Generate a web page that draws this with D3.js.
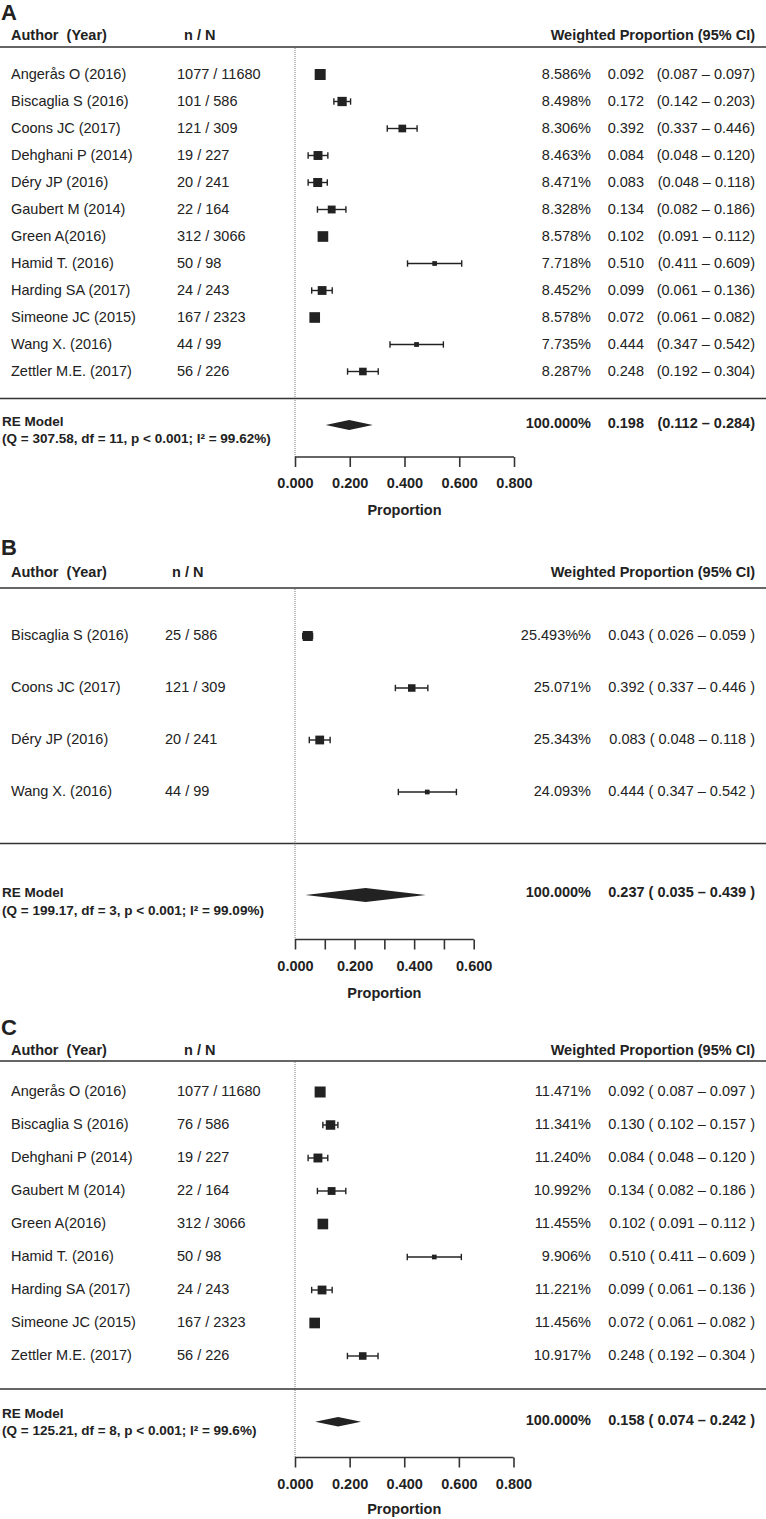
<!DOCTYPE html>
<html><head><meta charset="utf-8">
<script src="https://cdn.jsdelivr.net/npm/d3@7"></script>
<style>
body{margin:0;background:#fff;}
svg{display:block;font-family:"Liberation Sans",Arial,Helvetica,sans-serif;}
text{fill:#222;}
</style></head><body>
<script>
// ---------- Panel A data ----------
const authorsA = ["Angerås O (2016)","Biscaglia S (2016)","Coons JC (2017)","Dehghani P (2014)","Déry JP (2016)","Gaubert M (2014)","Green A(2016)","Hamid T. (2016)","Harding SA (2017)","Simeone JC (2015)","Wang X. (2016)","Zettler M.E. (2017)"];
const nNA = ["1077 / 11680","101 / 586","121 / 309","19 / 227","20 / 241","22 / 164","312 / 3066","50 / 98","24 / 243","167 / 2323","44 / 99","56 / 226"];
const weightsA = ["8.586%","8.498%","8.306%","8.463%","8.471%","8.328%","8.578%","7.718%","8.452%","8.578%","7.735%","8.287%"];
const estA = [0.092,0.172,0.392,0.084,0.083,0.134,0.102,0.510,0.099,0.072,0.444,0.248];
const loA  = [0.087,0.142,0.337,0.048,0.048,0.082,0.091,0.411,0.061,0.061,0.347,0.192];
const hiA  = [0.097,0.203,0.446,0.120,0.118,0.186,0.112,0.609,0.136,0.082,0.542,0.304];
const reA = {est:0.198, lo:0.112, hi:0.284, weight:"100.000%", stats:"(Q = 307.58, df = 11, p < 0.001; I² = 99.62%)"};
const ticksA = [0,0.2,0.4,0.6,0.8];
const tickLabelsA = ["0.000","0.200","0.400","0.600","0.800"];

// ---------- Panel B data ----------
const authorsB = ["Biscaglia S (2016)","Coons JC (2017)","Déry JP (2016)","Wang X. (2016)"];
const nNB = ["25 / 586","121 / 309","20 / 241","44 / 99"];
const weightsB = ["25.493%%","25.071%","25.343%","24.093%"];
const estB = [0.043,0.392,0.083,0.444];
const loB  = [0.026,0.337,0.048,0.347];
const hiB  = [0.059,0.446,0.118,0.542];
const reB = {est:0.237, lo:0.035, hi:0.439, weight:"100.000%", stats:"(Q = 199.17, df = 3, p < 0.001; I² = 99.09%)"};
const ticksB = [0,0.1,0.2,0.3,0.4,0.5,0.6];
const tickLabelsB = ["0.000","","0.200","","0.400","","0.600"];

// ---------- Panel C data ----------
const authorsC = ["Angerås O (2016)","Biscaglia S (2016)","Dehghani P (2014)","Gaubert M (2014)","Green A(2016)","Hamid T. (2016)","Harding SA (2017)","Simeone JC (2015)","Zettler M.E. (2017)"];
const nNC = ["1077 / 11680","76 / 586","19 / 227","22 / 164","312 / 3066","50 / 98","24 / 243","167 / 2323","56 / 226"];
const weightsC = ["11.471%","11.341%","11.240%","10.992%","11.455%","9.906%","11.221%","11.456%","10.917%"];
const estC = [0.092,0.130,0.084,0.134,0.102,0.510,0.099,0.072,0.248];
const loC  = [0.087,0.102,0.048,0.082,0.091,0.411,0.061,0.061,0.192];
const hiC  = [0.097,0.157,0.120,0.186,0.112,0.609,0.136,0.082,0.304];
const reC = {est:0.158, lo:0.074, hi:0.242, weight:"100.000%", stats:"(Q = 125.21, df = 8, p < 0.001; I² = 99.6%)"};
const ticksC = [0,0.2,0.4,0.6,0.8];
const tickLabelsC = ["0.000","0.200","0.400","0.600","0.800"];

const W = 766, H = 1519;
const svg = d3.select("body").append("svg").attr("width", W).attr("height", H);
const f3 = d3.format(".3f");
const DARK = "#222";
const FS = "14.5px";

function drawPanel(p) {
  const g = svg.append("g");
  const x = d3.scaleLinear().domain(p.domain).range(p.range);
  const widths = p.lo.map((l, i) => p.hi[i] - l);
  const size = d3.scaleLinear().domain([d3.max(widths), d3.min(widths)]).range(p.sizeRange);

  // panel letter
  g.append("text").attr("x", 1).attr("y", p.letterY).attr("dominant-baseline", "central")
    .style("font-size", "22px").style("font-weight", "bold").text(p.letter);

  // header
  const hdr = g.append("g").style("font-size", FS).style("font-weight", "bold");
  hdr.append("text").attr("x", 11).attr("y", p.headerY).attr("dominant-baseline", "central")
    .style("white-space", "pre").text("Author  (Year)");
  hdr.append("text").attr("x", p.nNHeaderX).attr("y", p.headerY).attr("dominant-baseline", "central").text("n / N");
  hdr.append("text").attr("x", 755).attr("y", p.headerY).attr("dominant-baseline", "central")
    .attr("text-anchor", "end").text("Weighted Proportion (95% CI)");
  g.append("line").attr("x1", 0).attr("x2", W).attr("y1", p.headerLineY).attr("y2", p.headerLineY)
    .attr("stroke", "#333").attr("stroke-width", 1.6);

  // reference line at 0
  g.append("line").attr("x1", x(0)).attr("x2", x(0)).attr("y1", p.headerLineY + 1).attr("y2", p.axisY)
    .attr("stroke", "#777").attr("stroke-width", 1).attr("stroke-dasharray", "1,1");

  const rowY = i => p.row0 + i * p.rowStep;
  const rows = g.selectAll("g.row").data(p.authors.map((a, i) => i)).join("g").attr("class", "row");
  const ts = rows.append("g").style("font-size", FS);
  ts.append("text").attr("x", 11).attr("y", i => rowY(i) + p.textDy).attr("dominant-baseline", "central").text(i => p.authors[i]);
  ts.append("text").attr("x", p.nNX).attr("y", i => rowY(i) + p.textDy).attr("dominant-baseline", "central").text(i => p.nN[i]);
  ts.append("text").attr("x", 591).attr("y", i => rowY(i) + p.textDy).attr("dominant-baseline", "central")
    .attr("text-anchor", "end").text(i => p.weights[i]);
  if (p.splitCols) {
    ts.append("text").attr("x", 644).attr("y", i => rowY(i) + p.textDy).attr("dominant-baseline", "central")
      .attr("text-anchor", "end").text(i => f3(p.est[i]));
    ts.append("text").attr("x", 755).attr("y", i => rowY(i) + p.textDy).attr("dominant-baseline", "central")
      .attr("text-anchor", "end").text(i => "(" + f3(p.lo[i]) + " – " + f3(p.hi[i]) + ")");
  } else {
    ts.append("text").attr("x", 755).attr("y", i => rowY(i) + p.textDy).attr("dominant-baseline", "central")
      .attr("text-anchor", "end").text(i => f3(p.est[i]) + " ( " + f3(p.lo[i]) + " – " + f3(p.hi[i]) + " )");
  }

  // CI whiskers
  rows.append("line").attr("x1", i => x(p.lo[i])).attr("x2", i => x(p.hi[i]))
    .attr("y1", rowY).attr("y2", rowY).attr("stroke", DARK).attr("stroke-width", 1.4);
  rows.append("line").attr("x1", i => x(p.lo[i])).attr("x2", i => x(p.lo[i]))
    .attr("y1", i => rowY(i) - 3.2).attr("y2", i => rowY(i) + 3.2).attr("stroke", DARK).attr("stroke-width", 1.4);
  rows.append("line").attr("x1", i => x(p.hi[i])).attr("x2", i => x(p.hi[i]))
    .attr("y1", i => rowY(i) - 3.2).attr("y2", i => rowY(i) + 3.2).attr("stroke", DARK).attr("stroke-width", 1.4);
  // squares
  rows.append("rect")
    .attr("x", i => x(p.est[i]) - size(widths[i]) / 2)
    .attr("y", i => rowY(i) - size(widths[i]) / 2)
    .attr("width", i => size(widths[i])).attr("height", i => size(widths[i]))
    .attr("fill", DARK);

  // separator
  g.append("line").attr("x1", 0).attr("x2", W).attr("y1", p.sepY).attr("y2", p.sepY)
    .attr("stroke", "#333").attr("stroke-width", 1.6);

  // RE model
  const re = p.re;
  const dy = p.diamondY, dh = p.diamondH;
  g.append("path")
    .attr("d", `M${x(re.lo)},${dy}L${x(re.est)},${dy - dh}L${x(re.hi)},${dy}L${x(re.est)},${dy + dh}Z`)
    .attr("fill", DARK);
  const reT = g.append("g").style("font-weight", "bold");
  reT.append("text").attr("x", 2).attr("y", p.reY1).attr("dominant-baseline", "central")
    .style("font-size", "13.5px").text("RE Model");
  reT.append("text").attr("x", 2).attr("y", p.reY2).attr("dominant-baseline", "central")
    .style("font-size", "13.5px").text(re.stats);
  reT.append("text").attr("x", 591).attr("y", p.reValY).attr("dominant-baseline", "central")
    .attr("text-anchor", "end").style("font-size", FS).text(re.weight);
  if (p.splitCols) {
    reT.append("text").attr("x", 644).attr("y", p.reValY).attr("dominant-baseline", "central")
      .attr("text-anchor", "end").style("font-size", FS).text(f3(re.est));
    reT.append("text").attr("x", 755).attr("y", p.reValY).attr("dominant-baseline", "central")
      .attr("text-anchor", "end").style("font-size", FS).text("(" + f3(re.lo) + " – " + f3(re.hi) + ")");
  } else {
    reT.append("text").attr("x", 755).attr("y", p.reValY).attr("dominant-baseline", "central")
      .attr("text-anchor", "end").style("font-size", FS)
      .text(f3(re.est) + " ( " + f3(re.lo) + " – " + f3(re.hi) + " )");
  }

  // axis
  const axis = d3.axisBottom(x).tickValues(p.ticks).tickSize(10).tickPadding(11)
    .tickFormat((d, i) => p.tickLabels[i]);
  const ax = g.append("g").attr("transform", `translate(0,${p.axisY})`).call(axis);
  ax.select(".domain").attr("stroke", "#333").attr("stroke-width", 1.6).attr("d", `M${p.range[0]},0H${p.range[1]}`);
  ax.selectAll(".tick line").attr("stroke", "#333").attr("stroke-width", 1.6);
  ax.selectAll(".tick text").attr("fill", DARK).style("font-size", FS).style("font-weight", "bold")
    .style("font-family", "'Liberation Sans',Arial,sans-serif");
  g.append("text").attr("x", (p.range[0] + p.range[1]) / 2).attr("y", p.propY)
    .attr("dominant-baseline", "central").attr("text-anchor", "middle")
    .style("font-size", FS).style("font-weight", "bold").text("Proportion");
}

drawPanel({
  letter: "A", letterY: 12, headerY: 35, headerLineY: 47, nNHeaderX: 184, nNX: 177,
  authors: authorsA, nN: nNA, weights: weightsA, est: estA, lo: loA, hi: hiA, re: reA,
  splitCols: true, domain: [0, 0.8], range: [295, 514], sizeRange: [4.7, 11],
  row0: 74.5, rowStep: 27, textDy: -1, sepY: 398.5, diamondY: 425, diamondH: 5,
  reY1: 421, reY2: 438, reValY: 423, axisY: 457, propY: 510,
  ticks: ticksA, tickLabels: tickLabelsA
});
drawPanel({
  letter: "B", letterY: 547, headerY: 572, headerLineY: 588, nNHeaderX: 172, nNX: 165,
  authors: authorsB, nN: nNB, weights: weightsB, est: estB, lo: loB, hi: hiB, re: reB,
  splitCols: false, domain: [0, 0.6], range: [295, 473.7], sizeRange: [4.7, 10],
  row0: 636, rowStep: 52, textDy: -1, sepY: 843.5, diamondY: 895, diamondH: 7,
  reY1: 892, reY2: 910, reValY: 892, axisY: 939.5, propY: 993,
  ticks: ticksB, tickLabels: tickLabelsB
});
drawPanel({
  letter: "C", letterY: 1027, headerY: 1050, headerLineY: 1061, nNHeaderX: 184, nNX: 177,
  authors: authorsC, nN: nNC, weights: weightsC, est: estC, lo: loC, hi: hiC, re: reC,
  splitCols: false, domain: [0, 0.8], range: [295, 513.5], sizeRange: [4.7, 11],
  row0: 1092, rowStep: 33, textDy: -1, sepY: 1389, diamondY: 1421.7, diamondH: 4.8,
  reY1: 1413, reY2: 1430, reValY: 1420, axisY: 1457.5, propY: 1509,
  ticks: ticksC, tickLabels: tickLabelsC
});
</script>
</body></html>
